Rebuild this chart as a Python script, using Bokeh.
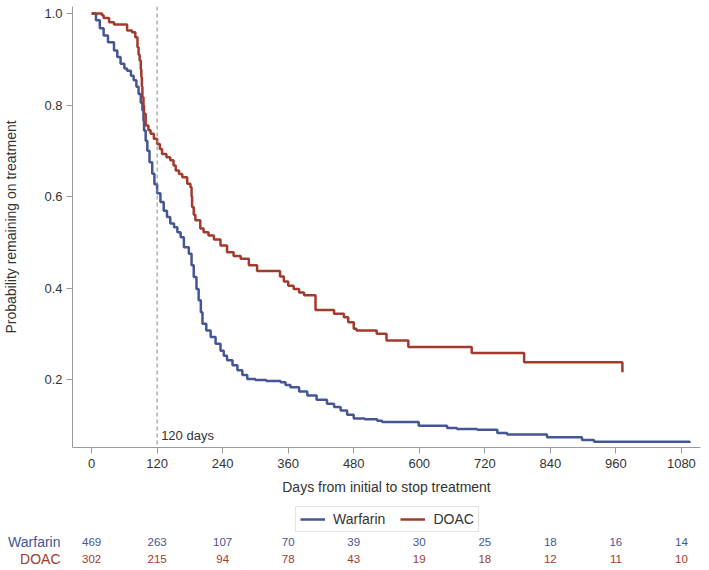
from bokeh.plotting import figure
from bokeh.layouts import column
from bokeh.models import (FixedTicker, Span, Label, Legend, LegendItem, Range1d,
                          PrintfTickFormatter)
from bokeh.core.properties import value
from bokeh.embed import file_html
from bokeh.resources import INLINE

# ---------------- data ----------------
warfarin_days = [0, 8, 15, 22, 30, 41, 47, 53, 60, 65, 72, 77, 82, 86, 90, 93, 95, 96, 99, 102,
                 106, 111, 115, 120, 126, 132, 138, 144, 151, 157, 163, 169, 178, 183, 187, 192,
                 196, 200, 203, 210, 218, 227, 236, 242, 248, 258, 267, 276, 285, 300, 320, 346,
                 355, 364, 380, 395, 412, 431, 444, 456, 468, 480, 500, 523, 532, 599, 651, 669,
                 706, 743, 761, 834, 898, 920, 1095]
warfarin_surv = [1.0, 0.985, 0.968, 0.952, 0.937, 0.919, 0.905, 0.890, 0.880, 0.875, 0.864, 0.854,
                 0.840, 0.824, 0.805, 0.788, 0.765, 0.744, 0.722, 0.700, 0.675, 0.650, 0.627, 0.607,
                 0.588, 0.569, 0.555, 0.541, 0.533, 0.522, 0.511, 0.489, 0.475, 0.450, 0.424, 0.398,
                 0.373, 0.347, 0.322, 0.307, 0.293, 0.278, 0.263, 0.252, 0.242, 0.231, 0.220, 0.210,
                 0.201, 0.199, 0.197, 0.194, 0.188, 0.183, 0.174, 0.165, 0.156, 0.147, 0.140, 0.132,
                 0.123, 0.115, 0.113, 0.110, 0.107, 0.099, 0.094, 0.092, 0.090, 0.083, 0.080, 0.074,
                 0.068, 0.064, 0.061]

doac_days = [0, 19, 22, 32, 41, 65, 74, 80, 84, 86, 88, 90, 91, 92, 93, 95, 96, 99, 104, 108,
             114, 120, 125, 129, 137, 144, 150, 154, 160, 166, 175, 181, 183, 184, 187, 190, 199,
             205, 214, 224, 236, 248, 260, 273, 288, 303, 345, 352, 360, 370, 380, 389, 410, 444,
             462, 470, 480, 485, 522, 540, 580, 696, 792, 972]
doac_surv = [1.0, 0.996, 0.990, 0.981, 0.976, 0.963, 0.959, 0.948, 0.926, 0.910, 0.897, 0.878,
             0.861, 0.840, 0.817, 0.799, 0.781, 0.755, 0.745, 0.737, 0.726, 0.715, 0.704, 0.693,
             0.686, 0.679, 0.668, 0.657, 0.649, 0.642, 0.628, 0.620, 0.600, 0.577, 0.560, 0.548,
             0.530, 0.522, 0.515, 0.506, 0.493, 0.478, 0.470, 0.464, 0.450, 0.437, 0.425, 0.414,
             0.405, 0.398, 0.390, 0.384, 0.352, 0.344, 0.336, 0.325, 0.311, 0.307, 0.300, 0.285,
             0.271, 0.258, 0.238, 0.216]

x_ticks = [0, 120, 240, 360, 480, 600, 720, 840, 960, 1080]
y_ticks = [0.2, 0.4, 0.6, 0.8, 1.0]
ref_day = 120
ref_label = "120 days"

groups = ["Warfarin", "DOAC"]
risk_warfarin = [469, 263, 107, 70, 39, 30, 25, 18, 16, 14]
risk_doac = [302, 215, 94, 78, 43, 19, 18, 12, 11, 10]

x_title = "Days from initial to stop treatment"
y_title = "Probability remaining on treatment"

# ---------------- style ----------------
BLUE = "#445694"
RED = "#A23A2E"
FONT = "Liberation Sans"
TXT = "#333333"
AXIS = "#9a9a9a"

W = 709
X0, X1 = -35, 1115
Y0, Y1 = 0.0514, 1.0153
LEFT = 72
RIGHT = 9

p = figure(width=W, height=500, output_backend="svg", toolbar_location=None,
           x_range=Range1d(X0, X1), y_range=Range1d(Y0, Y1),
           min_border_left=LEFT, min_border_right=RIGHT, min_border_top=6, min_border_bottom=53)
p.outline_line_color = None
p.grid.visible = False
p.background_fill_color = "white"

p.xaxis.ticker = FixedTicker(ticks=x_ticks)
p.yaxis.ticker = FixedTicker(ticks=y_ticks)
p.yaxis.formatter = PrintfTickFormatter(format="%.1f")
for ax in (p.xaxis[0], p.yaxis[0]):
    ax.axis_line_color = AXIS
    ax.major_tick_line_color = AXIS
    ax.minor_tick_line_color = None
    ax.major_tick_out = 6
    ax.major_tick_in = 0
    ax.major_label_text_font = FONT
    ax.major_label_text_font_size = "13px"
    ax.major_label_text_color = TXT
    ax.axis_label_text_font = FONT
    ax.axis_label_text_font_size = "14px"
    ax.axis_label_text_font_style = "normal"
    ax.axis_label_text_color = TXT
p.xaxis.axis_label = x_title
p.yaxis.axis_label = y_title
p.xaxis.major_label_standoff = 5
p.xaxis.axis_label_standoff = 8
p.yaxis.major_label_standoff = 4
p.yaxis.axis_label_standoff = 22

p.add_layout(Span(location=ref_day, dimension="height", line_color="#8a8a8a",
                  line_dash="4 3", line_width=1))
p.add_layout(Label(x=ref_day, y=12, y_units="screen", x_offset=4, text=ref_label,
                   text_font=FONT, text_font_size="13px", text_color=TXT,
                   text_baseline="middle"))

p.step(warfarin_days, warfarin_surv, mode="after", line_color=BLUE, line_width=2.5)
p.step(doac_days, doac_surv, mode="after", line_color=RED, line_width=2.5)

# ---------------- risk table + legend ----------------
H2 = 70
scale = (W - LEFT - RIGHT) / (X1 - X0)
p2 = figure(width=W, height=H2, output_backend="svg", toolbar_location=None,
            x_range=Range1d(X0 - LEFT / scale, X1 + RIGHT / scale), y_range=Range1d(0, H2),
            x_axis_type=None, y_axis_type=None,
            min_border_left=0, min_border_right=0, min_border_top=0, min_border_bottom=0)
if "frame_align" in p2.properties():
    p2.frame_align = False
p2.outline_line_color = None
p2.grid.visible = False

row_y = [29, 12]
for vals, col, yy in ((risk_warfarin, BLUE, row_y[0]), (risk_doac, RED, row_y[1])):
    p2.text(x=x_ticks, y=[yy] * len(x_ticks), text=[str(v) for v in vals],
            text_font=value(FONT), text_font_size="11.5px", text_color=col,
            text_align="center", text_baseline="middle")

label_x = X0 - 12 / scale
p2.text(x=[label_x, label_x], y=row_y, text=groups,
        text_font=value(FONT), text_font_size="14px", text_color=[BLUE, RED],
        text_align="right", text_baseline="middle")

off = X0 - 1e6
lw = p2.line(x=[off, off + 1], y=[0, 0], line_color=BLUE, line_width=2.5)
ld = p2.line(x=[off, off + 1], y=[0, 0], line_color=RED, line_width=2.5)
legend = Legend(items=[LegendItem(label=groups[0], renderers=[lw]),
                       LegendItem(label=groups[1], renderers=[ld])],
                orientation="horizontal", location=(295, 38),
                padding=4, spacing=15, margin=0, label_standoff=8,
                glyph_width=25, glyph_height=12, label_height=12,
                label_text_font=FONT, label_text_font_size="14px", label_text_color=TXT,
                border_line_color="#c8c8c8", border_line_width=1,
                background_fill_color="white")
p2.add_layout(legend)

layout = column(p, p2, spacing=0)
open("out.html", "w").write(file_html(layout, INLINE))
